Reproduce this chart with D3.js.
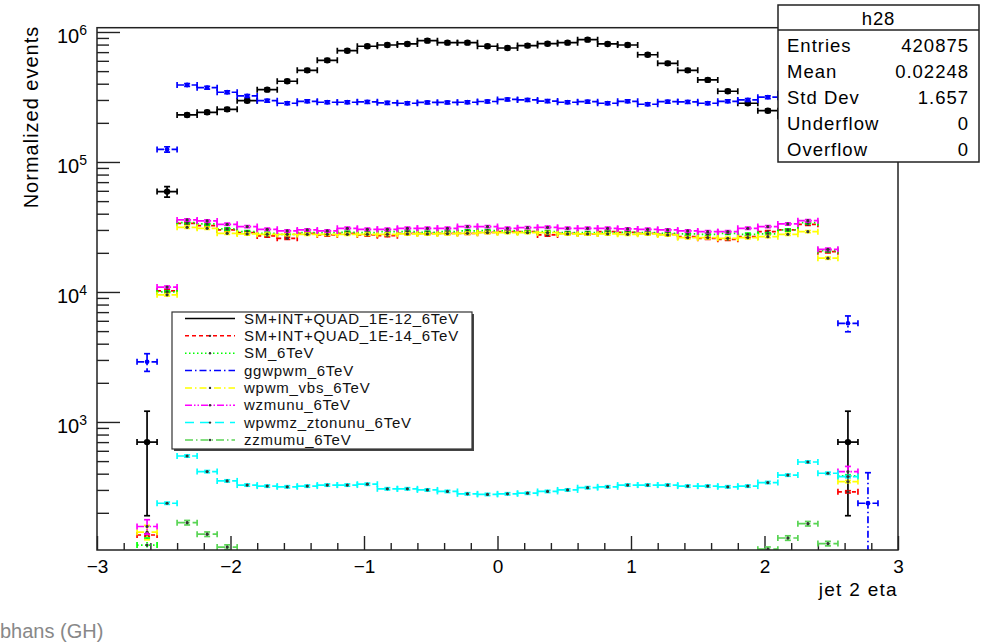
<!DOCTYPE html>
<html><head><meta charset="utf-8">
<script src="https://cdn.jsdelivr.net/npm/d3@7"></script>
<style>
body{margin:0;background:#fff;}
svg{display:block;font-family:"Liberation Sans",Arial,Helvetica,sans-serif;}
</style>
</head><body>
<svg id="c" width="996" height="643"></svg>
<script>
// ---------------- DATA ----------------
const xRange = [-3, 3];
const nBins = 40;                        // bin width 0.15
const xTickLabels = [-3, -2, -1, 0, 1, 2, 3];
const yTickDecades = [1e3, 1e4, 1e5, 1e6];

const seriesNames = [
  "SM+INT+QUAD_1E-12_6TeV", "SM+INT+QUAD_1E-14_6TeV", "SM_6TeV", "ggwpwm_6TeV",
  "wpwm_vbs_6TeV", "wzmunu_6TeV", "wpwmz_ztonunu_6TeV", "zzmumu_6TeV"
];

const _ = null;
// per-bin contents (40 bins from -3 to 3)
const quad12 = [_,_,700,59200,230000,241000,254000,296000,360000,418000,507000,605000,718000,777000,794000,809000,858000,828000,828000,777000,
  753000,786000,813000,828000,873000,809000,794000,668000,574000,507000,428000,350000,283000,248000,225000,215000,200000,700,_,_];
const quad14 = [_,_,135,10200,33750,32390,29990,28610,26970,25870,28270,27450,28270,27450,27130,28270,28270,28270,28270,28770,
  29120,29120,27450,28270,27940,29120,28770,28270,27770,26650,25870,25420,26650,29120,29990,33160,20430,290,_,_];
const smOnly = [_,_,113,10000,34150,33360,30530,29120,28270,27770,28610,28610,28770,28610,29120,29120,28770,29120,29460,29640,
  29460,29120,29120,28610,28610,28770,28770,28610,28270,27940,27770,28270,27770,27940,29990,34150,20800,385,_,_];
const ggwpwm = [_,_,2900,125000,391000,373000,344000,322000,296000,283000,293000,288000,288000,290000,285000,283000,287000,287000,288000,292000,
  303000,300000,294000,288000,291000,283000,293000,278000,291000,290000,283000,293000,300000,315000,335000,360000,390000,5740,237,_];
const wpwmVbs = [_,_,142,9500,31440,30890,28270,27940,27770,27770,27770,27770,27770,27770,27770,27940,27940,28100,28270,28610,
  28610,28610,28610,27940,27940,27940,27770,27940,27450,26180,26180,25870,26180,26650,27770,29120,18200,348,_,_];
const wzmunu = [_,_,157,10900,35800,35170,33160,31820,30350,29460,29990,29460,30890,30350,30350,30890,30890,30890,31820,31820,
  30890,31260,31440,30890,30890,30890,30530,30350,29990,29460,29120,29120,30890,31820,33360,35380,21300,415,_,_];
const wpwmz = [_,_,_,237,547,415,352,327,321,317,321,327,327,332,306,306,300,292,280,277,
  280,283,292,300,312,317,327,327,327,321,321,317,321,342,390,492,403,380,_,_];
const zzmumu = [_,_,_,_,168,137,109,_,_,_,_,_,_,_,_,_,_,_,_,_,
  _,_,_,_,_,_,_,_,_,_,_,_,_,105,128,165,116,_,_,_];

// relative uncertainties per series, plus a few large absolute ones
const relErr = [0.03, 0.02, 0.02, 0.025, 0.02, 0.02, 0.02, 0.04];
const bigErr = [[0,2,510],[0,3,5500],[0,37,510],[3,2,450],[3,3,6000],[3,37,800],[3,38,170],[5,2,20],[5,37,40],[4,2,18],[2,2,15]];

const statsLabels = ["Entries", "Mean", "Std Dev", "Underflow", "Overflow"];
const statsValues = ["420875", "0.02248", "1.657", "0", "0"];

// ---------------- STYLE ----------------
const colors = ["#000000", "#ff0000", "#00ff00", "#0000ff", "#ffff00", "#ff00ff", "#00ffff", "#59d454"];
const dashes = ["none", "4,3", "1.5,2.5", "7,3,1.5,3", "7,3,1.5,3", "7,2,1.5,2,1.5,2", "9,6", "8,3,1.5,3"];
const allSeries = [quad12, quad14, smOnly, ggwpwm, wpwmVbs, wzmunu, wpwmz, zzmumu];

const frame = {l: 97, t: 27.7, r: 898, b: 550};
const svg = d3.select("#c");
const x = d3.scaleLinear().domain(xRange).range([frame.l, frame.r]);
const y = d3.scaleLog().domain([Math.pow(10, 2.015), Math.pow(10, 6.033)]).range([frame.b, frame.t]);

svg.append("rect").attr("width", 996).attr("height", 643).attr("fill", "#fff");
svg.append("defs").append("clipPath").attr("id", "fc").append("rect")
  .attr("x", frame.l).attr("y", frame.t).attr("width", frame.r - frame.l).attr("height", frame.b - frame.t);

// axes ticks
const binW = (xRange[1] - xRange[0]) / nBins;
const xMinor = d3.range(-30, 31, 2).map(d => d / 10).filter(d => Math.abs(d - Math.round(d)) > 1e-6);
const gx = svg.append("g").attr("transform", `translate(0,${frame.b})`);
gx.call(d3.axisBottom(x).tickValues(xMinor).tickSize(-7).tickSizeOuter(0).tickFormat(""));
gx.call(g => g.select(".domain").remove());
const gx2 = svg.append("g").attr("transform", `translate(0,${frame.b})`);
gx2.call(d3.axisBottom(x).tickValues(xTickLabels).tickSize(-14).tickSizeOuter(0).tickPadding(10).tickFormat(d3.format("d")));
gx2.call(g => g.select(".domain").remove());
gx2.selectAll("text").attr("font-size", 19).attr("fill", "#000").attr("font-family", "Liberation Sans, Arial, sans-serif");

const yMinor = [];
[100, 1000, 10000, 100000].forEach(dec => { for (let k = 2; k <= 9; k++) { const v = dec * k; if (v > y.domain()[0] && v < y.domain()[1]) yMinor.push(v); } });
const gy = svg.append("g").attr("transform", `translate(${frame.l},0)`);
gy.call(d3.axisLeft(y).tickValues(yMinor).tickSize(-12).tickSizeOuter(0).tickFormat(""));
gy.call(g => g.select(".domain").remove());
const gy2 = svg.append("g").attr("transform", `translate(${frame.l},0)`);
gy2.call(d3.axisLeft(y).tickValues(yTickDecades).tickSize(-23).tickSizeOuter(0).tickFormat(""));
gy2.call(g => g.select(".domain").remove());
svg.selectAll(".tick line").attr("stroke", "#222").attr("stroke-width", 1.4);

// y labels with superscripts
yTickDecades.forEach(v => {
  const t = svg.append("text").attr("x", frame.l - 10).attr("y", y(v) + 11)
    .attr("text-anchor", "end").attr("fill", "#000");
  t.append("tspan").attr("font-size", 20).text("10");
  t.append("tspan").attr("font-size", 14).attr("dy", -8).text(String(Math.round(Math.log10(v))));
});

// axis titles
svg.append("text").attr("x", frame.r).attr("y", 596).attr("text-anchor", "end")
  .attr("font-size", 19).attr("letter-spacing", 1.3).text("jet 2 eta");
svg.append("text").attr("transform", `translate(38,${frame.t - 2}) rotate(-90)`).attr("text-anchor", "end")
  .attr("font-size", 20).attr("letter-spacing", 1.0).text("Normalized events");

// data
const plot = svg.append("g").attr("clip-path", "url(#fc)");
allSeries.forEach((vals, s) => {
  const g = plot.append("g").attr("stroke", colors[s]).attr("stroke-width", 1.7).attr("fill", "none");
  vals.forEach((v, i) => {
    if (v == null) return;
    let e = v * relErr[s];
    bigErr.forEach(b => { if (b[0] === s && b[1] === i) e = b[2]; });
    const x0 = x(xRange[0] + i * binW), x1 = x(xRange[0] + (i + 1) * binW), xc = (x0 + x1) / 2;
    const yc = y(v), yh = y(v + e), yl = (v - e) > 1 ? y(v - e) : frame.b + 50;
    const da = dashes[s];
    g.append("line").attr("x1", x0).attr("x2", x1).attr("y1", yc).attr("y2", yc).attr("stroke-dasharray", da);
    g.append("line").attr("x1", x0).attr("x2", x0).attr("y1", yc - 3).attr("y2", yc + 3);
    g.append("line").attr("x1", x1).attr("x2", x1).attr("y1", yc - 3).attr("y2", yc + 3);
    g.append("line").attr("x1", xc).attr("x2", xc).attr("y1", yh).attr("y2", yl).attr("stroke-dasharray", da);
    g.append("line").attr("x1", xc - 3).attr("x2", xc + 3).attr("y1", yh).attr("y2", yh);
    g.append("line").attr("x1", xc - 3).attr("x2", xc + 3).attr("y1", yl).attr("y2", yl);
    const mr = s === 0 ? 3.2 : (s === 3 ? 2.4 : 1.6);
    const mc = s === 3 ? colors[3] : (s === 0 ? "#000" : "#333");
    g.append("circle").attr("cx", xc).attr("cy", yc).attr("r", mr).attr("fill", mc).attr("stroke", "none");
  });
});

// frame
svg.append("rect").attr("x", frame.l).attr("y", frame.t).attr("width", frame.r - frame.l).attr("height", frame.b - frame.t)
  .attr("fill", "none").attr("stroke", "#222").attr("stroke-width", 1.5);

// stats box
const sb = {x: 778, y: 5, w: 201, h: 157};
svg.append("rect").attr("x", sb.x).attr("y", sb.y).attr("width", sb.w).attr("height", sb.h)
  .attr("fill", "#fff").attr("stroke", "#222").attr("stroke-width", 1.5);
svg.append("line").attr("x1", sb.x).attr("x2", sb.x + sb.w).attr("y1", 30).attr("y2", 30).attr("stroke", "#222").attr("stroke-width", 1.5);
svg.append("text").attr("x", sb.x + sb.w / 2).attr("y", 24.5).attr("text-anchor", "middle").attr("font-size", 18.5).attr("letter-spacing", 0.8).text("h28");
statsLabels.forEach((lab, k) => {
  const yy = 52 + k * 26;
  svg.append("text").attr("x", sb.x + 9).attr("y", yy).attr("font-size", 18.5).attr("letter-spacing", 1).text(lab);
  svg.append("text").attr("x", sb.x + sb.w - 10).attr("y", yy).attr("text-anchor", "end").attr("font-size", 18.5).attr("letter-spacing", 1).text(statsValues[k]);
});

// legend
const lg = {x: 172, y: 312, w: 300, h: 137};
svg.append("rect").attr("x", lg.x + 2).attr("y", lg.y + 2).attr("width", lg.w).attr("height", lg.h).attr("fill", "#444");
svg.append("rect").attr("x", lg.x).attr("y", lg.y).attr("width", lg.w).attr("height", lg.h)
  .attr("fill", "#fff").attr("stroke", "#333").attr("stroke-width", 1.2);
seriesNames.forEach((name, s) => {
  const yy = 318.5 + s * 17.35;
  svg.append("line").attr("x1", 185).attr("x2", 235).attr("y1", yy).attr("y2", yy)
    .attr("stroke", colors[s]).attr("stroke-width", 1.5).attr("stroke-dasharray", dashes[s]);
  if (s !== 0 && s !== 3) svg.append("circle").attr("cx", 210).attr("cy", yy).attr("r", 1.2).attr("fill", "#333");
  svg.append("text").attr("x", 244).attr("y", yy + 5).attr("font-size", 15).attr("letter-spacing", 0.75)
    .attr("fill", "#111").text(name);
});

// partially visible footer text
svg.append("text").attr("x", 0).attr("y", 638).attr("font-size", 20).attr("fill", "#888").text("bhans (GH)");
</script>
</body></html>
